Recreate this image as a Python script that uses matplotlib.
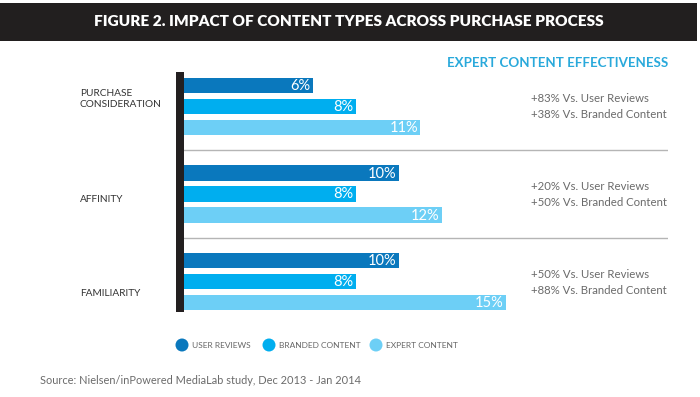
import matplotlib
matplotlib.use("Agg")
import matplotlib.pyplot as plt
from matplotlib.patches import Rectangle, Ellipse

plt.rcParams['font.family'] = ['Lato', 'DejaVu Sans']

categories = ["PURCHASE\nCONSIDERATION", "AFFINITY", "FAMILIARITY"]
series = ["USER REVIEWS", "BRANDED CONTENT", "EXPERT CONTENT"]
user_reviews = [6, 10, 10]
branded_content = [8, 8, 8]
expert_content = [11, 12, 15]
effectiveness = [
    ["+83% Vs. User Reviews", "+38% Vs. Branded Content"],
    ["+20% Vs. User Reviews", "+50% Vs. Branded Content"],
    ["+50% Vs. User Reviews", "+88% Vs. Branded Content"],
]
title = "FIGURE 2. IMPACT OF CONTENT TYPES ACROSS PURCHASE PROCESS"
header = "EXPERT CONTENT EFFECTIVENESS"
source = "Source: Nielsen/inPowered MediaLab study, Dec 2013 - Jan 2014"

colors = ["#0a78bd", "#00aeef", "#6dcff6"]

W, H = 700, 397
fig = plt.figure(figsize=(W / 100, H / 100), dpi=100)
fig.patch.set_facecolor("white")

def fx(px):
    return px / W

def fy(py):
    return 1 - py / H

# title band
fig.patches.append(Rectangle((0, fy(41)), fx(697), fy(3) - fy(41), transform=fig.transFigure,
                             facecolor="#221f1f", edgecolor="none"))
fig.text(fx(349), fy(22), title, color="white", fontsize=11.1, fontweight="heavy",
         ha="center", va="center")

# bar axes
left_px, right_px, top_px, bot_px = 184, 668, 72, 312
ax = fig.add_axes([fx(left_px), fy(bot_px), fx(right_px - left_px), fy(top_px) - fy(bot_px)])
px_per_pct = 21.5
ax.set_xlim(0, (right_px - left_px) / px_per_pct)
ax.set_ylim(bot_px, top_px)
ax.axis("off")

group_step = 87.5
first_center = 106.5
bar_step = 21
bar_h = 15.5
label_y = [99, 199, 293]
eff_y = [(98, 114), (186, 202), (275, 291)]

all_series = [user_reviews, branded_content, expert_content]
for g in range(len(categories)):
    c = first_center + g * group_step
    for s, vals in enumerate(all_series):
        y = c + (s - 1) * bar_step
        v = vals[g]
        ax.barh(y, v, height=bar_h, color=colors[s], edgecolor="none")
        ax.text(v - 0.12, y + 0.5, f"{v}%", color="white", fontsize=10.5, ha="right", va="center")
    # category label
    fig.text(fx(80), fy(label_y[g]), categories[g], color="#333333", fontsize=7.3,
             ha="left", va="center", linespacing=1.4)
    # effectiveness text
    fig.text(fx(531), fy(eff_y[g][0]), effectiveness[g][0], color="#6b6b6b", fontsize=8.2,
             ha="left", va="center")
    fig.text(fx(531), fy(eff_y[g][1]), effectiveness[g][1], color="#6b6b6b", fontsize=8.2,
             ha="left", va="center")
    if g < len(categories) - 1:
        sep = c + group_step / 2
        ax.plot([0, ax.get_xlim()[1]], [sep, sep], color="#b5b5b5", lw=1)

# vertical black axis bar
fig.patches.append(Rectangle((fx(176), fy(312)), fx(8), fy(72) - fy(312), transform=fig.transFigure,
                             facecolor="#231f20", edgecolor="none"))

fig.text(fx(668), fy(63), header, color="#29a9db", fontsize=9.6, fontweight="bold",
         ha="right", va="center")

# legend
leg_x = [182, 269, 376]
for s, name in enumerate(series):
    fig.patches.append(Ellipse((fx(leg_x[s]), fy(345)), 13 / W, 13 / H, transform=fig.transFigure,
                               facecolor=colors[s], edgecolor="none"))
    fig.text(fx(leg_x[s] + 10), fy(345), name, color="#666666", fontsize=6.0,
             ha="left", va="center")

fig.text(fx(40), fy(380), source, color="#6b6b6b", fontsize=7.9, ha="left", va="center")

fig.savefig("out.png", dpi=100, facecolor="white")
